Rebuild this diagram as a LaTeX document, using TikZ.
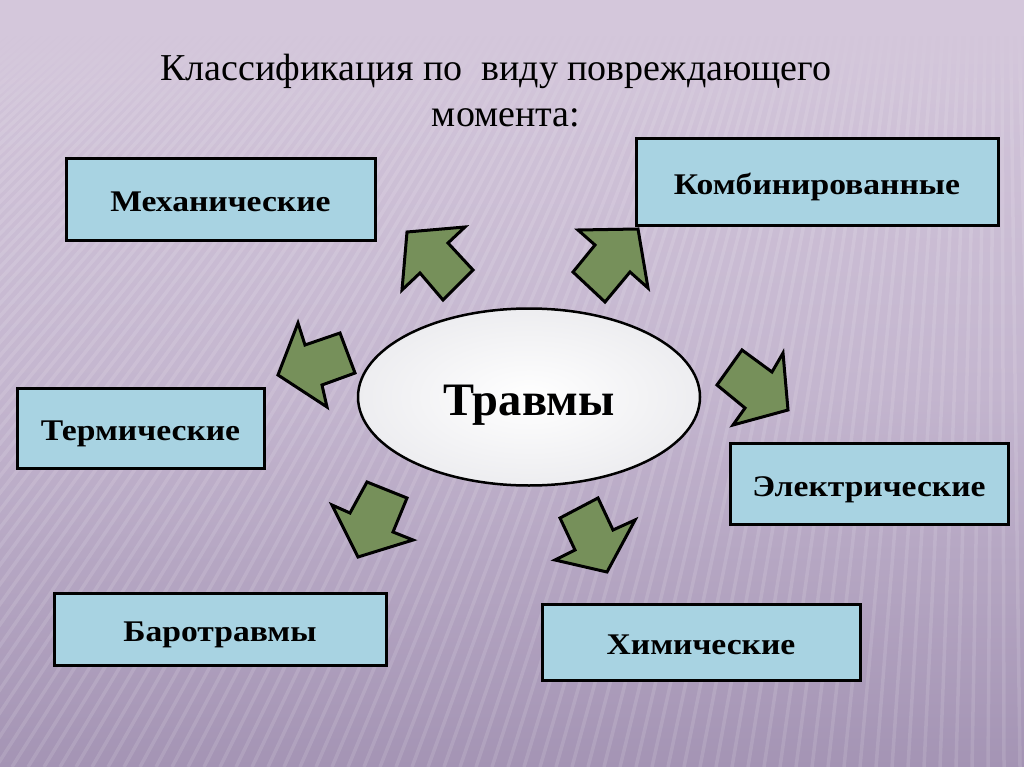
\documentclass[tikz,border=0pt]{standalone}
\usepackage{fontspec}
\setmainfont{Liberation Serif}
\newfontfamily\boxfont[FakeStretch=1.12]{Liberation Serif}
\usetikzlibrary{shapes.geometric,fadings}
\definecolor{bgtop}{HTML}{D4C7DB}
\definecolor{bgmid}{HTML}{C4B6CF}
\definecolor{bgbot}{HTML}{A494B4}
\definecolor{boxblue}{HTML}{A8D3E2}
\definecolor{arrowgreen}{HTML}{76905A}
\definecolor{ellout}{HTML}{EDEDF0}
\tikzset{
  catbox/.style={rectangle, draw=black, line width=3pt, fill=boxblue, inner sep=0pt,
    text height=25pt, text depth=0pt,
    font=\boxfont\fontsize{30}{34}\selectfont\bfseries, text=black},
  blockarrow/.style={draw=black, line width=3pt, fill=arrowgreen, line join=miter},
  stripe/.style={white, opacity=0.12, line width=3.5pt},
}
\begin{document}
\begin{tikzpicture}[x=1pt,y=-1pt]
\useasboundingbox (0,0) rectangle (1024,767);
% background
\shade[top color=bgtop, bottom color=bgmid] (0,0) rectangle (1024,384);
\shade[top color=bgmid, bottom color=bgbot] (0,383.5) rectangle (1024,767);
\begin{scope}
  \clip (0,36) rectangle (1024,767);
  \foreach \x in {-900,-884,...,1120} \draw[stripe] (1000,-800) -- (\x,767);
\end{scope}
\fill[bgtop] (0,0) rectangle (1024,36);
\fill[bgtop, path fading=south] (0,35.5) rectangle (1024,120);
% title
\node[font=\fontsize{38}{40}\selectfont, text=black, anchor=base] (title1) at (496,81) {Классификация по\ \ виду повреждающего};
\node[font=\fontsize{38}{40}\selectfont, text=black, anchor=base] (title2) at (506,127) {момента:};
% centre
\node[ellipse, draw=black, line width=2.5pt, inner color=white, outer color=ellout, minimum width=342pt, minimum height=177pt, inner sep=0pt,
  text height=36pt, text depth=0pt,
  font=\fontsize{46.5}{50}\selectfont\bfseries] (center) at (529,397) {Травмы};
% boxes
\node[catbox, minimum width=309pt, minimum height=82pt] (mech) at (220.5,199.5) {Механические};
\node[catbox, minimum width=362pt, minimum height=87pt] (komb) at (817,182.5) {Комбинированные};
\node[catbox, minimum width=247pt, minimum height=80pt] (term) at (140.5,428) {Термические};
\node[catbox, minimum width=278pt, minimum height=81pt] (elek) at (869,483.5) {Электрические};
\node[catbox, minimum width=332pt, minimum height=72pt] (baro) at (220,629) {Баротравмы};
\node[catbox, minimum width=318pt, minimum height=76pt] (khim) at (701,642) {Химические};
% block arrows
\draw[blockarrow] (407,232) -- (465,227) -- (448,243) -- (473,270) -- (443,300) -- (420,273) -- (402,290) -- cycle;
\draw[blockarrow] (638,229) -- (648,288) -- (630,272) -- (605,302) -- (573,272) -- (595,245) -- (578,230) -- cycle;
\draw[blockarrow] (278,375) -- (298,323) -- (305,345) -- (340,333) -- (355,373) -- (322,385) -- (327,407) -- cycle;
\draw[blockarrow] (788,410) -- (733,425) -- (745,408) -- (717,385) -- (742,350) -- (772,372) -- (783,353) -- cycle;
\draw[blockarrow] (358,557) -- (332,505) -- (350,513) -- (367,482) -- (407,498) -- (393,532) -- (413,540) -- cycle;
\draw[blockarrow] (607,572) -- (555,560) -- (575,550) -- (560,518) -- (598,498) -- (613,530) -- (635,520) -- cycle;
\end{tikzpicture}
\end{document}
